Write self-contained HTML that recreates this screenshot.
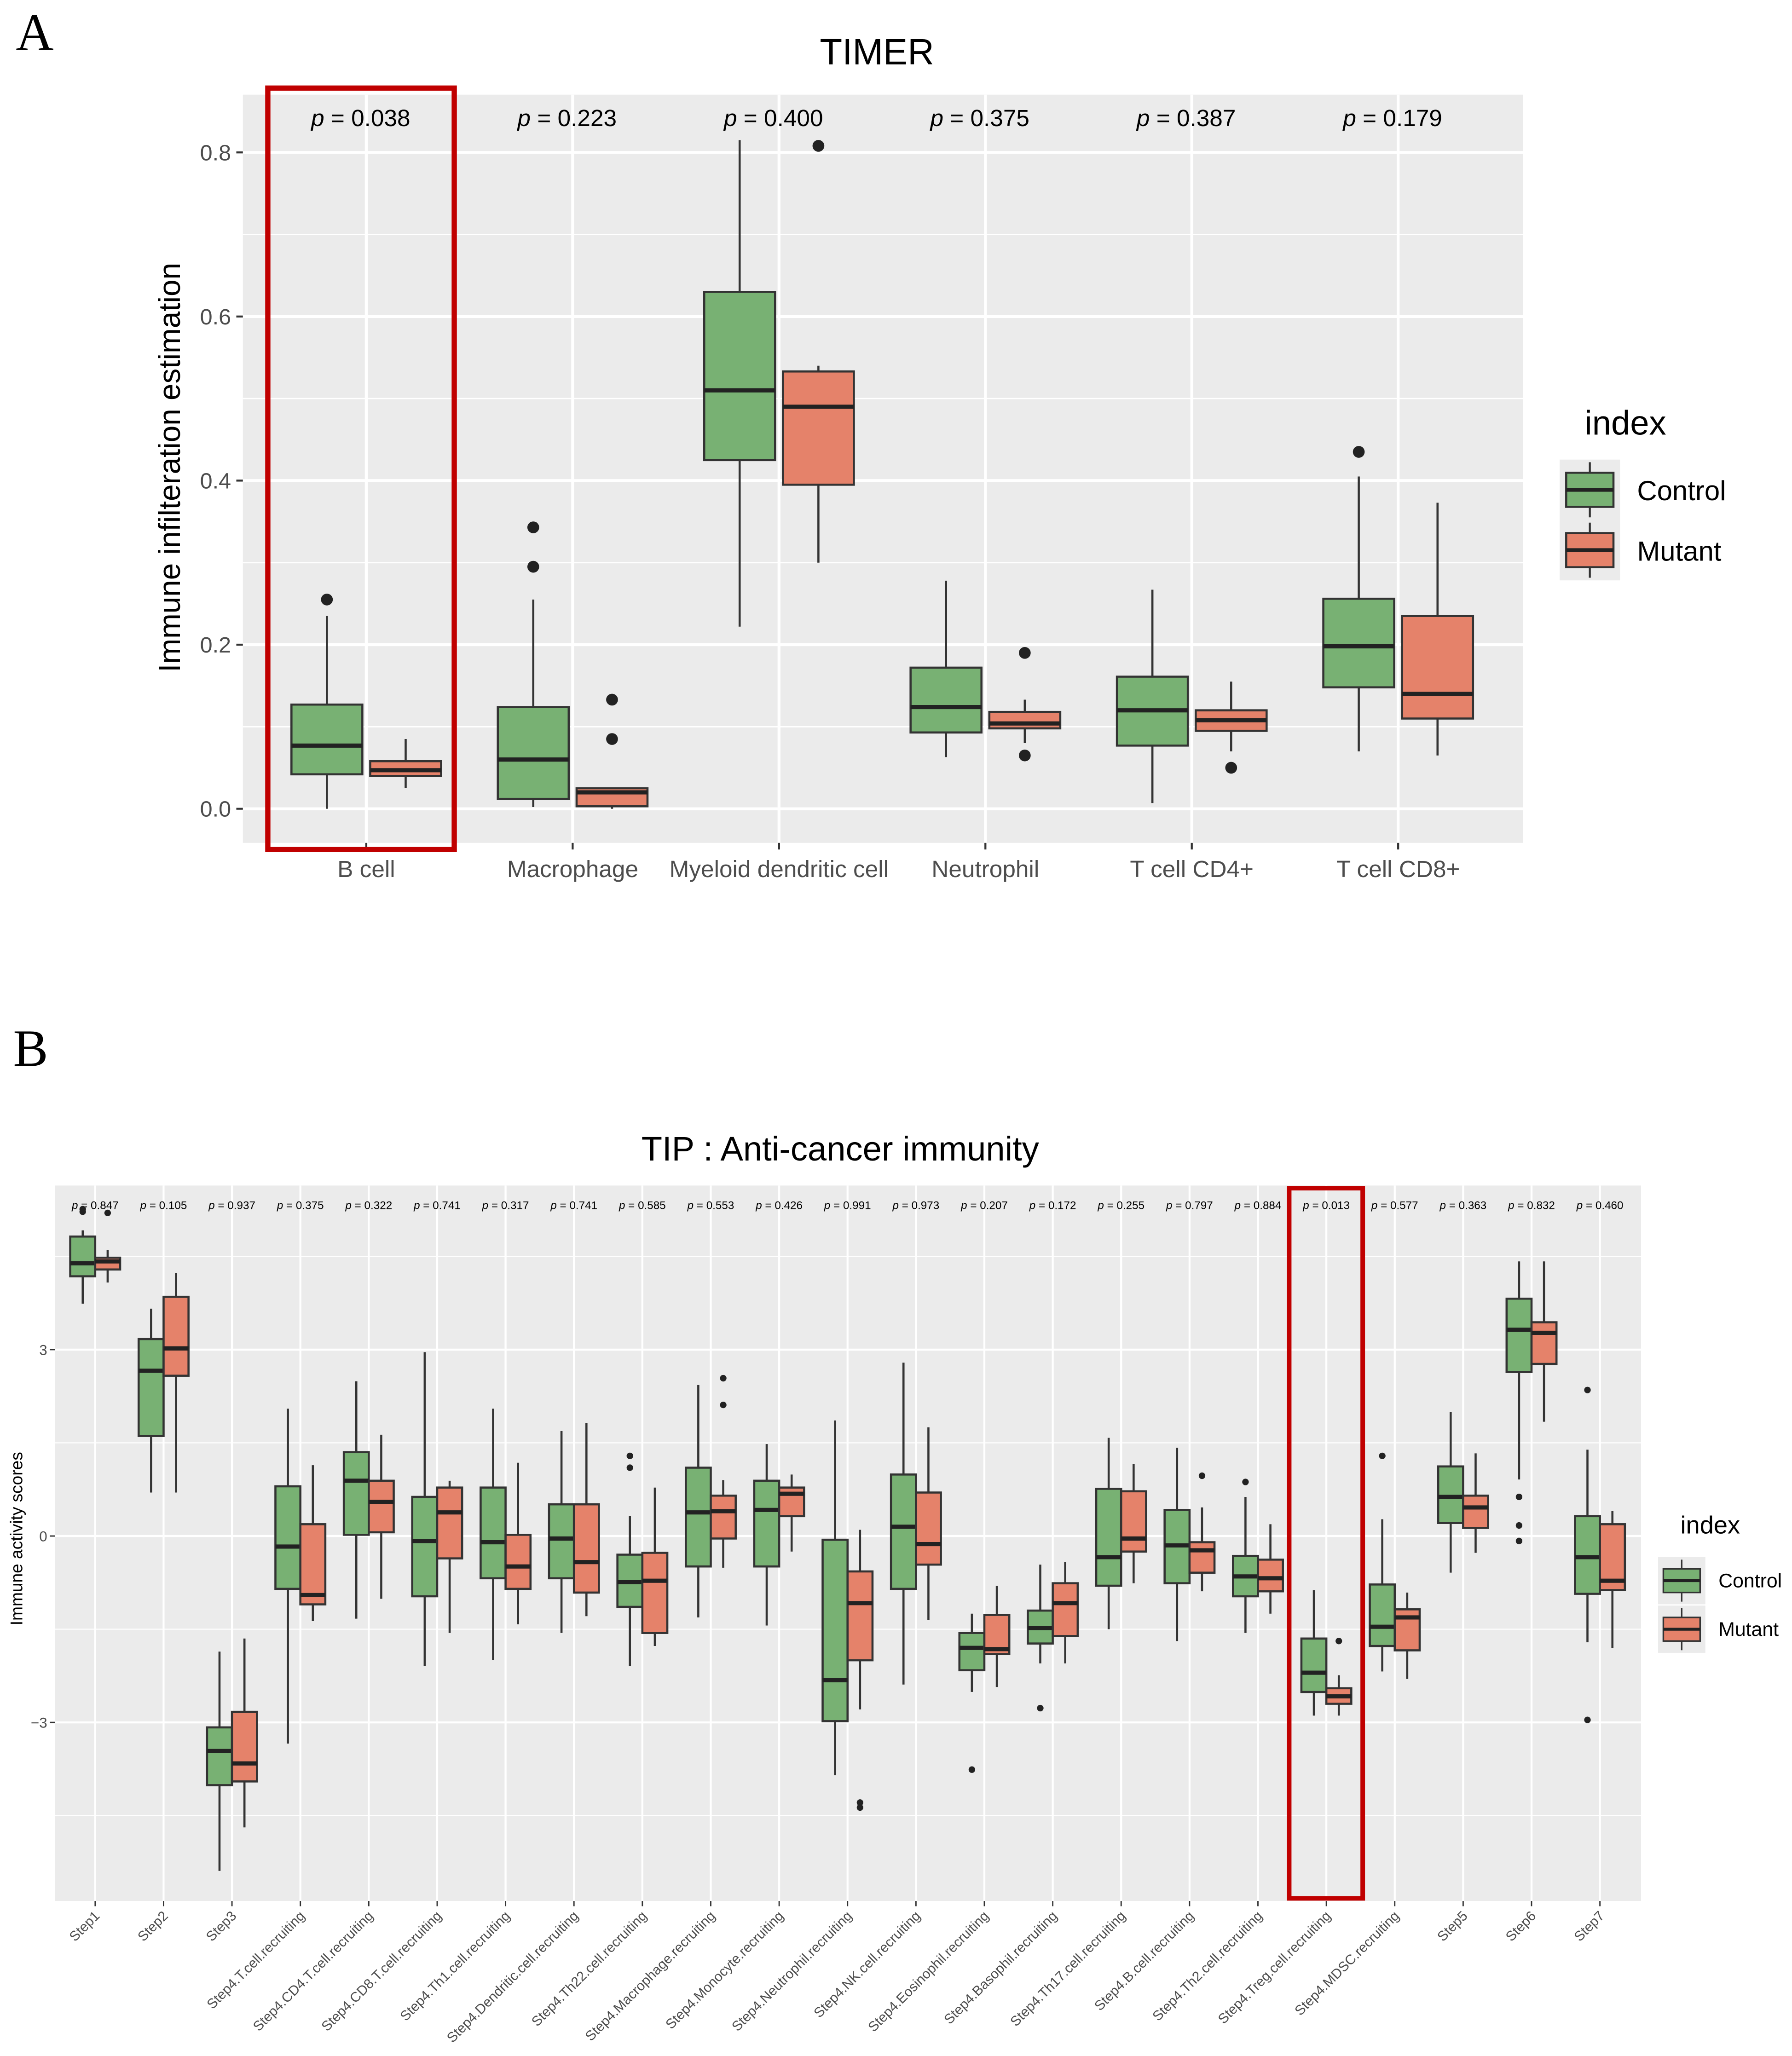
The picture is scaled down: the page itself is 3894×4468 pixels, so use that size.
<!DOCTYPE html>
<html><head><meta charset="utf-8"><style>
html,body{margin:0;padding:0;background:#fff}
svg{display:block}
text{font-family:"Liberation Sans",sans-serif}
</style></head><body>
<svg id="fig" xmlns="http://www.w3.org/2000/svg" width="3894" height="4468" viewBox="0 0 1365 1566">
<rect width="1365" height="1566" fill="#fff"/>
<g id="A"></g>
<g id="B"></g>
</svg>
<script>
// ---------- Panel A data ----------
const aCats=["B cell","Macrophage","Myeloid dendritic cell","Neutrophil","T cell CD4+","T cell CD8+"];
const aP=["0.038","0.223","0.400","0.375","0.387","0.179"];
const aCtrl=[[0.0,0.042,0.077,0.127,0.235],[0.002,0.012,0.06,0.124,0.255],[0.222,0.425,0.51,0.63,0.815],[0.063,0.093,0.124,0.172,0.278],[0.007,0.077,0.12,0.161,0.267],[0.07,0.148,0.198,0.256,0.405]];
const aCtrlOut=[[0.255],[0.295,0.343],[],[],[],[0.435]];
const aMut=[[0.025,0.04,0.047,0.058,0.085],[0,0.003,0.02,0.025,0.025],[0.3,0.395,0.49,0.533,0.54],[0.08,0.098,0.104,0.118,0.133],[0.07,0.095,0.108,0.12,0.155],[0.065,0.11,0.14,0.235,0.373]];
const aMutOut=[[],[0.085,0.133],[0.808],[0.065,0.19],[0.05],[]];
const aTicks=[0,0.2,0.4,0.6,0.8];
// ---------- Panel B data ----------
const bCats=["Step1","Step2","Step3","Step4.T.cell.recruiting","Step4.CD4.T.cell.recruiting","Step4.CD8.T.cell.recruiting","Step4.Th1.cell.recruiting","Step4.Dendritic.cell.recruiting","Step4.Th22.cell.recruiting","Step4.Macrophage.recruiting","Step4.Monocyte.recruiting","Step4.Neutrophil.recruiting","Step4.NK.cell.recruiting","Step4.Eosinophil.recruiting","Step4.Basophil.recruiting","Step4.Th17.cell.recruiting","Step4.B.cell.recruiting","Step4.Th2.cell.recruiting","Step4.Treg.cell.recruiting","Step4.MDSC.recruiting","Step5","Step6","Step7"];
const bP=["0.847","0.105","0.937","0.375","0.322","0.741","0.317","0.741","0.585","0.553","0.426","0.991","0.973","0.207","0.172","0.255","0.797","0.884","0.013","0.577","0.363","0.832","0.460"];
const bCtrl=[[3.74,4.18,4.39,4.82,4.92],[0.7,1.61,2.66,3.17,3.66],[-5.39,-4.01,-3.46,-3.08,-1.86],[-3.34,-0.85,-0.17,0.8,2.05],[-1.33,0.02,0.89,1.35,2.49],[-2.09,-0.97,-0.08,0.63,2.96],[-2.0,-0.68,-0.1,0.78,2.05],[-1.56,-0.68,-0.04,0.51,1.69],[-2.09,-1.14,-0.74,-0.3,0.32],[-1.31,-0.49,0.38,1.1,2.43],[-1.44,-0.49,0.42,0.89,1.48],[-3.85,-2.98,-2.32,-0.06,1.86],[-2.39,-0.85,0.15,0.99,2.79],[-2.51,-2.16,-1.8,-1.56,-1.25],[-2.05,-1.73,-1.48,-1.2,-0.46],[-1.5,-0.8,-0.34,0.76,1.58],[-1.69,-0.76,-0.15,0.42,1.42],[-1.56,-0.97,-0.65,-0.32,0.63],[-2.89,-2.51,-2.2,-1.65,-0.87],[-2.18,-1.77,-1.46,-0.78,0.27],[-0.59,0.21,0.63,1.12,2.0],[0.91,2.64,3.32,3.82,4.42],[-1.71,-0.93,-0.34,0.32,1.39]];
const bCtrlOut=[[5.26,5.22],[],[],[],[],[],[],[],[1.29,1.1],[],[],[],[],[-3.76],[-2.77],[],[],[0.87],[],[1.29],[],[0.63,0.17,-0.08],[2.35,-2.96]];
const bMut=[[4.08,4.29,4.42,4.48,4.6],[0.7,2.58,3.02,3.85,4.23],[-4.69,-3.95,-3.66,-2.83,-1.65],[-1.37,-1.1,-0.95,0.19,1.14],[-1.01,0.06,0.55,0.89,1.63],[-1.56,-0.36,0.38,0.78,0.89],[-1.42,-0.85,-0.49,0.02,1.18],[-1.29,-0.91,-0.42,0.51,1.82],[-1.77,-1.56,-0.72,-0.27,0.78],[-0.51,-0.04,0.4,0.65,0.9],[-0.25,0.32,0.68,0.78,0.99],[-2.79,-2.0,-1.08,-0.57,0.1],[-1.35,-0.46,-0.13,0.7,1.75],[-2.43,-1.9,-1.82,-1.27,-0.8],[-2.05,-1.61,-1.08,-0.76,-0.42],[-0.76,-0.25,-0.04,0.72,1.16],[-0.89,-0.59,-0.23,-0.1,0.46],[-1.25,-0.89,-0.68,-0.38,0.19],[-2.89,-2.7,-2.58,-2.45,-2.24],[-2.3,-1.84,-1.31,-1.18,-0.91],[-0.27,0.13,0.46,0.65,1.33],[1.84,2.77,3.27,3.44,4.42],[-1.8,-0.87,-0.72,0.19,0.4]];
const bMutOut=[[5.2],[],[],[],[],[],[],[],[],[2.54,2.11],[],[-4.29,-4.37],[],[],[],[],[0.97],[],[-1.69],[],[],[],[]];
const bTicks=[-3,0,3];

const NS="http://www.w3.org/2000/svg";
const GREEN="#78B173",ORANGE="#E5826A";
function mk(parent,tag,attrs,txt){const e=document.createElementNS(NS,tag);for(const k in attrs)e.setAttribute(k,attrs[k]);if(txt!==undefined)e.textContent=txt;parent.appendChild(e);return e;}

function drawBox(g,cx,w,s,outs,y,col,name,r){
  const grp=mk(g,"g",{});
  
  
  const lw=r>2?1.6:1.1;
  mk(grp,"line",{x1:cx,x2:cx,y1:y(s[0]),y2:y(s[4]),stroke:"#333","stroke-width":lw});
  mk(grp,"rect",{x:cx-w/2,y:y(s[3]),width:w,height:Math.max(0.5,y(s[1])-y(s[3])),fill:col,stroke:"#333","stroke-width":lw});
  mk(grp,"line",{x1:cx-w/2,x2:cx+w/2,y1:y(s[2]),y2:y(s[2]),stroke:"#222","stroke-width":lw*2});
  outs.forEach(v=>{mk(grp,"circle",{cx:cx,cy:y(v),r:r,fill:"#222"});});
}

// ---------- Panel A ----------
(function(){
  const g=document.getElementById("A");
  const L=185,R=1160,T=72,B=642;
  const y=v=>616-v*625;
  const x=i=>279+i*157.2;
  mk(g,"text",{x:12,y:38,style:"font-family:'Liberation Serif',serif;font-size:40px",fill:"#000"},"A");
  const t=mk(g,"text",{x:668,y:49,"font-size":28,"text-anchor":"middle",fill:"#000"},"TIMER");
  
  mk(g,"rect",{x:L,y:T,width:R-L,height:B-T,fill:"#EBEBEB"});
  [0.1,0.3,0.5,0.7].forEach(v=>mk(g,"line",{x1:L,x2:R,y1:y(v),y2:y(v),stroke:"#fff","stroke-width":1}));
  aTicks.forEach(v=>{mk(g,"line",{x1:L,x2:R,y1:y(v),y2:y(v),stroke:"#fff","stroke-width":2.2});
    mk(g,"line",{x1:L-5,x2:L,y1:y(v),y2:y(v),stroke:"#333","stroke-width":1.5});
    const tl=mk(g,"text",{x:L-9,y:y(v)+6,"font-size":17,"text-anchor":"end",fill:"#4d4d4d"},v.toFixed(1));
    });
  aCats.forEach((c,i)=>{mk(g,"line",{x1:x(i),x2:x(i),y1:T,y2:B,stroke:"#fff","stroke-width":2.2});
    mk(g,"line",{x1:x(i),x2:x(i),y1:B,y2:B+5,stroke:"#333","stroke-width":1.5});
    const tl=mk(g,"text",{x:x(i),y:668,"font-size":18,"text-anchor":"middle",fill:"#4d4d4d"},c);
    
    const p=mk(g,"text",{x:x(i)-42,y:96,"font-size":18,fill:"#000"});
    
    mk(p,"tspan",{"font-style":"italic"},"p");mk(p,"tspan",{},"  = "+aP[i]);
  });
  aCats.forEach((c,i)=>{
    drawBox(g,x(i)-30,54,aCtrl[i],aCtrlOut[i],y,GREEN,'box-control-'+i,4.5);
    drawBox(g,x(i)+30,54,aMut[i],aMutOut[i],y,ORANGE,'box-mutant-'+i,4.5);
  });
  const yt=mk(g,"text",{x:0,y:0,"font-size":23,"text-anchor":"middle",fill:"#000",transform:"translate(137,356) rotate(-90)"},"Immune infilteration estimation");
  
  const rb=mk(g,"rect",{x:204,y:67,width:142,height:580,fill:"none",stroke:"#C00000","stroke-width":4});
  
  const lg=mk(g,"g",{});
  mk(lg,"text",{x:1207,y:331,"font-size":26,fill:"#000"},"index");
  [[GREEN,"Control",350],[ORANGE,"Mutant",396]].forEach(([col,lab,yy])=>{
    const e=mk(lg,"g",{});
    mk(e,"rect",{x:1188,y:yy,width:46,height:46,fill:"#EBEBEB"});
    mk(e,"line",{x1:1211,x2:1211,y1:yy+2,y2:yy+44,stroke:"#333","stroke-width":1.5});
    mk(e,"rect",{x:1193,y:yy+10,width:36,height:26,fill:col,stroke:"#333","stroke-width":1.6});
    mk(e,"line",{x1:1193,x2:1229,y1:yy+23,y2:yy+23,stroke:"#222","stroke-width":3});
    mk(e,"text",{x:1247,y:yy+31,"font-size":21,fill:"#000"},lab);
  });
})();

// ---------- Panel B ----------
(function(){
  const g=document.getElementById("B");
  const L=42,R=1250,T=903,B=1448;
  const y=v=>1170-v*47.33;
  const x=i=>72.5+i*52.1;
  mk(g,"text",{x:10,y:812,style:"font-family:'Liberation Serif',serif;font-size:40px",fill:"#000"},"B");
  mk(g,"text",{x:640,y:884,"font-size":26,"text-anchor":"middle",fill:"#000"},"TIP : Anti-cancer immunity");
  mk(g,"rect",{x:L,y:T,width:R-L,height:B-T,fill:"#EBEBEB"});
  [-4.5,-1.5,1.5,4.5].forEach(v=>mk(g,"line",{x1:L,x2:R,y1:y(v),y2:y(v),stroke:"#fff","stroke-width":0.8}));
  bTicks.forEach(v=>{mk(g,"line",{x1:L,x2:R,y1:y(v),y2:y(v),stroke:"#fff","stroke-width":1.5});
    mk(g,"line",{x1:L-4,x2:L,y1:y(v),y2:y(v),stroke:"#333","stroke-width":1});
    const tl=mk(g,"text",{x:L-6,y:y(v)+4,"font-size":11,"text-anchor":"end",fill:"#4d4d4d"},v<0?"\u2212"+Math.abs(v):String(v));
    });
  bCats.forEach((c,i)=>{mk(g,"line",{x1:x(i),x2:x(i),y1:T,y2:B,stroke:"#fff","stroke-width":1.5});
    mk(g,"line",{x1:x(i),x2:x(i),y1:B,y2:B+4,stroke:"#333","stroke-width":1});
    const tl=mk(g,"text",{x:0,y:0,"font-size":10.5,"text-anchor":"end",fill:"#4d4d4d",transform:`translate(${x(i)+4},${B+12}) rotate(-45)`},c);
    
    const p=mk(g,"text",{x:x(i),y:921,"font-size":8.5,"text-anchor":"middle",fill:"#000"});
    
    mk(p,"tspan",{"font-style":"italic"},"p");mk(p,"tspan",{}," = "+bP[i]);
  });
  bCats.forEach((c,i)=>{
    drawBox(g,x(i)-9.5,19,bCtrl[i],bCtrlOut[i],y,GREEN,'box-control-'+i,2.5);
    drawBox(g,x(i)+9.5,19,bMut[i],bMutOut[i],y,ORANGE,'box-mutant-'+i,2.5);
  });
  mk(g,"text",{x:0,y:0,"font-size":13,"text-anchor":"middle",fill:"#000",transform:"translate(17,1172) rotate(-90)"},"Immune activity scores");
  mk(g,"rect",{x:982,y:905,width:56,height:541,fill:"none",stroke:"#C00000","stroke-width":3.5});
  const lg=mk(g,"g",{});
  mk(lg,"text",{x:1280,y:1168,"font-size":19,fill:"#000"},"index");
  [[GREEN,"Control",1186],[ORANGE,"Mutant",1223]].forEach(([col,lab,yy])=>{
    const e=mk(lg,"g",{});
    mk(e,"rect",{x:1263,y:yy,width:36,height:36,fill:"#EBEBEB"});
    mk(e,"line",{x1:1281,x2:1281,y1:yy+2,y2:yy+34,stroke:"#333","stroke-width":1.1});
    mk(e,"rect",{x:1267,y:yy+9,width:28,height:18,fill:col,stroke:"#333","stroke-width":1.2});
    mk(e,"line",{x1:1267,x2:1295,y1:yy+18,y2:yy+18,stroke:"#222","stroke-width":2.2});
    mk(e,"text",{x:1309,y:yy+23,"font-size":15,fill:"#000"},lab);
  });
})();
</script>
</body></html>
